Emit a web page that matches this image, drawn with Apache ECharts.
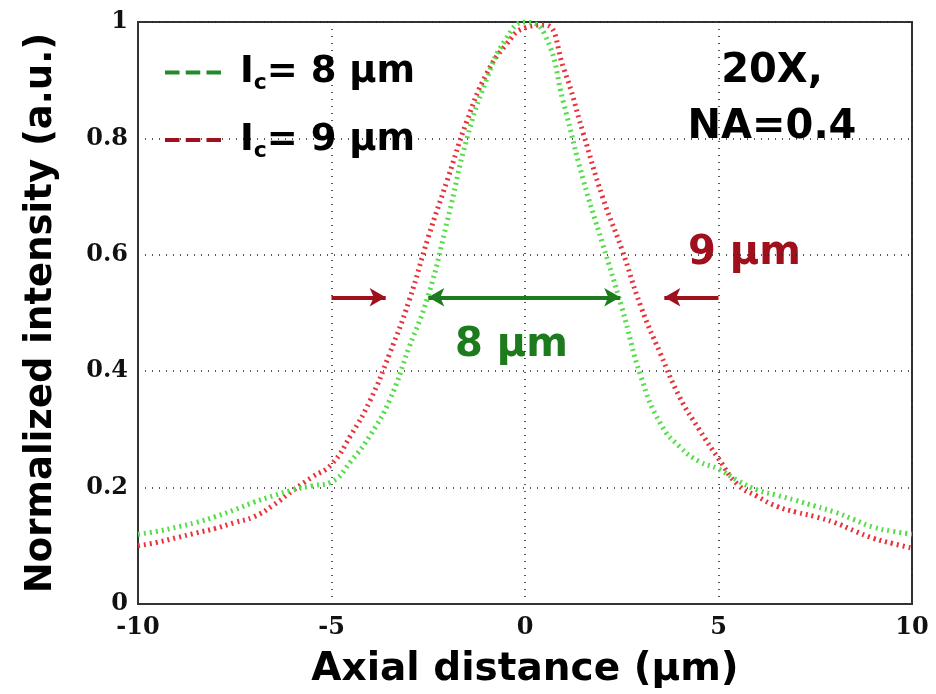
<!DOCTYPE html>
<html>
<head>
<meta charset="utf-8">
<script src="https://cdn.jsdelivr.net/npm/echarts@6/dist/echarts.min.js"></script>
<style>
  html, body { margin: 0; padding: 0; background: #fff; }
  #chart { width: 936px; height: 694px; }
</style>
</head>
<body>
<div id="chart"></div>
<script>
// axial positions (µm)
const xs = [-10, -9.5, -9, -8.5, -8, -7.5, -7, -6.5, -6, -5.5, -5, -4.5, -4, -3.5, -3, -2.5, -2, -1.5, -1, -0.5,
  0, 0.5, 1, 1.5, 2, 2.5, 3, 3.5, 4, 4.5, 5, 5.5, 6, 6.5, 7, 7.5, 8, 8.5, 9, 9.5, 10];
// lc = 8 µm
const green8 = [0.12, 0.125, 0.132, 0.14, 0.15, 0.162, 0.175, 0.186, 0.196, 0.203, 0.21, 0.245, 0.29, 0.35, 0.44, 0.53, 0.66, 0.8, 0.9, 0.97,
  1.0, 0.98, 0.86, 0.73, 0.62, 0.51, 0.39, 0.31, 0.27, 0.245, 0.232, 0.212, 0.196, 0.187, 0.178, 0.168, 0.158, 0.145, 0.132, 0.125, 0.12];
// lc = 9 µm
const red9 = [0.1, 0.106, 0.114, 0.122, 0.13, 0.14, 0.15, 0.17, 0.195, 0.218, 0.24, 0.29, 0.35, 0.43, 0.52, 0.63, 0.73, 0.83, 0.91, 0.96,
  0.99, 0.995, 0.92, 0.81, 0.7, 0.61, 0.51, 0.43, 0.355, 0.3, 0.25, 0.205, 0.185, 0.168, 0.158, 0.15, 0.14, 0.126, 0.113, 0.104, 0.096];
const xTicks = [-10, -5, 0, 5, 10];
const yTicks = [0, 0.2, 0.4, 0.6, 0.8, 1];
// FWHM markers at half height
const halfY = 0.527;
const fwhm8 = [-2.5, 2.46];
const fwhm9 = [-5, -3.6, 3.6, 5];

const chart = echarts.init(document.getElementById('chart'));

const tickFont = {
  fontFamily: 'DejaVu Serif',
  fontWeight: 'bold',
  fontSize: 24,
  color: '#111'
};
const dotted = { type: [1, 6], color: '#222', width: 1.5 };
const pairs = (ys) => xs.map((x, i) => [x, ys[i]]);
const dashIcon = 'path://M0,0h14v4h-14z M20,0h14v4h-14z M40,0h14v4h-14z';

chart.setOption({
  animation: false,
  grid: {
    left: 138, right: 24, top: 22, bottom: 90,
    outerBoundsMode: 'none',
    containLabel: false,
    show: true, borderColor: '#333', borderWidth: 2
  },
  legend: {
    left: 160,
    top: 49,
    orient: 'vertical',
    itemGap: 27,
    itemWidth: 56,
    itemHeight: 6,
    formatter: (name) => name === 'lc8' ? '{b|I}{s|c}{b|= 8 µm}' : '{b|I}{s|c}{b|= 9 µm}',
    textStyle: {
      padding: [0, 0, 0, 14],
      rich: {
        b: { fontFamily: 'DejaVu Sans', fontWeight: 'bold', fontSize: 37, color: '#000' },
        s: { fontFamily: 'DejaVu Sans', fontWeight: 'bold', fontSize: 22, color: '#000', verticalAlign: 'bottom', padding: [22, 0, 0, 0] }
      }
    },
    data: [
      { name: 'lc8', icon: dashIcon, itemStyle: { color: '#238b2b' } },
      { name: 'lc9', icon: dashIcon, itemStyle: { color: '#a0101c' } }
    ]
  },
  xAxis: {
    type: 'value',
    min: -10, max: 10, interval: 5,
    name: 'Axial distance (µm)',
    nameLocation: 'middle',
    nameGap: 46,
    nameTextStyle: { fontFamily: 'DejaVu Sans', fontWeight: 'bold', fontSize: 39, color: '#000' },
    axisLine: { onZero: false, lineStyle: { color: '#333', width: 2 } },
    axisTick: { show: false },
    axisLabel: Object.assign({ margin: 12, formatter: (v) => xTicks.includes(v) ? String(v) : '' }, tickFont),
    splitLine: { show: true, lineStyle: dotted }
  },
  yAxis: {
    type: 'value',
    min: 0, max: 1, interval: 0.2,
    name: 'Normalized intensity (a.u.)',
    nameLocation: 'middle',
    nameGap: 78,
    nameTextStyle: { fontFamily: 'DejaVu Sans', fontWeight: 'bold', fontSize: 37, color: '#000' },
    axisLine: { onZero: false, lineStyle: { color: '#333', width: 2 } },
    axisTick: { show: false },
    axisLabel: Object.assign({ margin: 10, formatter: (v) => {
      const t = yTicks.find((k) => Math.abs(k - v) < 1e-6);
      return t === undefined ? '' : (t === 0 || t === 1 ? String(t) : t.toFixed(1));
    } }, tickFont),
    splitLine: { show: true, lineStyle: dotted }
  },
  series: [
    {
      name: 'lc8',
      type: 'line',
      smooth: true,
      showSymbol: false,
      z: 3,
      color: '#238b2b',
      lineStyle: { color: '#55dd4a', width: 5, type: [2, 4] },
      data: pairs(green8),
      markLine: {
        silent: true,
        symbol: ['arrow', 'arrow'],
        symbolSize: [14, 16],
        label: { show: false },
        lineStyle: { color: '#1d7a1d', width: 4, type: 'solid' },
        data: [[{ coord: [fwhm8[0], halfY] }, { coord: [fwhm8[1], halfY] }]]
      }
    },
    {
      name: 'lc9',
      type: 'line',
      smooth: true,
      showSymbol: false,
      z: 2,
      color: '#a0101c',
      lineStyle: { color: '#e8333c', width: 5, type: [2, 4] },
      data: pairs(red9),
      markLine: {
        silent: true,
        symbol: ['none', 'arrow'],
        symbolSize: [14, 16],
        label: { show: false },
        lineStyle: { color: '#a0101c', width: 4, type: 'solid' },
        data: [
          [{ coord: [fwhm9[0], halfY] }, { coord: [fwhm9[1], halfY] }],
          [{ coord: [fwhm9[3], halfY] }, { coord: [fwhm9[2], halfY] }]
        ]
      }
    }
  ],
  graphic: [
    {
      type: 'text', x: 772, y: 44,
      style: { text: '20X,\nNA=0.4', font: 'bold 40px "DejaVu Sans"', fill: '#000', lineHeight: 56, align: 'center' }
    },
    {
      type: 'text', left: 455, top: 326,
      style: { text: '8 µm', font: 'bold 40px "DejaVu Sans"', fill: '#1d7a1d' }
    },
    {
      type: 'text', left: 688, top: 234,
      style: { text: '9 µm', font: 'bold 40px "DejaVu Sans"', fill: '#a0101c' }
    }
  ]
});
</script>
</body>
</html>
